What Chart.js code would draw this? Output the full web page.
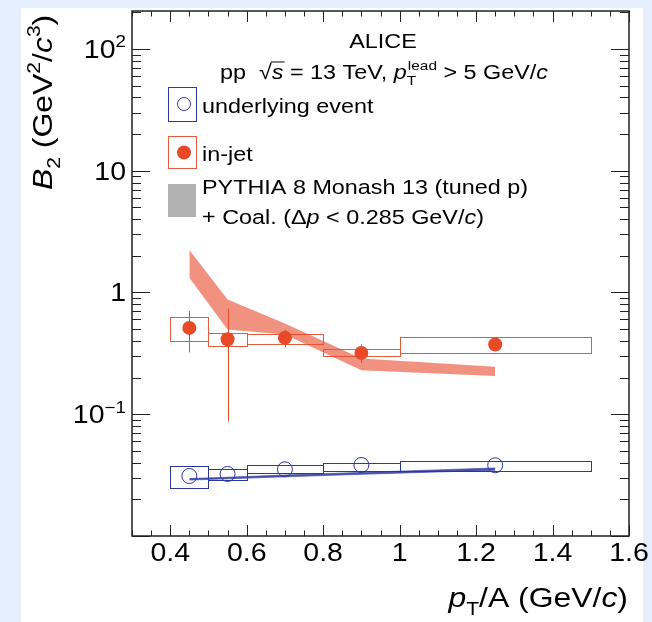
<!DOCTYPE html>
<html>
<head>
<meta charset="utf-8">
<script src="https://cdn.jsdelivr.net/npm/chart.js@4.4.1/dist/chart.umd.min.js"></script>
<style>
  html, body { margin: 0; padding: 0; background: #e4eefc; }
  canvas { display: block; }
</style>
</head>
<body>
<canvas id="c" width="652" height="622"></canvas>
<script>
// pT/A bins (GeV/c)
const binCenters = [0.45, 0.55, 0.7, 0.9, 1.25];
const binLow = [0.4, 0.5, 0.6, 0.8, 1.0];
const binHigh = [0.5, 0.6, 0.8, 1.0, 1.5];

// B2 in-jet (GeV^2/c^3)
const jetB2 = [0.512, 0.413, 0.424, 0.319, 0.374];
const jetStat = [0.19, 0.326, 0.07, 0.055, 0.03];
const jetSysLow = [0.398, 0.364, 0.381, 0.298, 0.321];
const jetSysHigh = [0.630, 0.466, 0.457, 0.344, 0.427];

// B2 underlying event
const ueB2 = [0.0311, 0.0323, 0.0353, 0.0383, 0.0381];
const ueSysLow = [0.0247, 0.0288, 0.0330, 0.0345, 0.0345];
const ueSysHigh = [0.0376, 0.0355, 0.0383, 0.0400, 0.0416];

// PYTHIA 8 Monash 13 (tuned p) + coalescence bands
const pythiaX = [0.45, 0.55, 0.7, 0.9, 1.25];
const pythiaJetLow = [1.32, 0.497, 0.452, 0.230, 0.206];
const pythiaJetHigh = [2.23, 0.876, 0.556, 0.287, 0.245];
const pythiaUeLow = [0.0288, 0.0295, 0.0306, 0.0321, 0.0347];
const pythiaUeHigh = [0.0296, 0.0304, 0.0317, 0.0333, 0.0362];

// axis ticks
const xMajorTicks = [0.4, 0.6, 0.8, 1.0, 1.2, 1.4, 1.6];
const xTickLabels = ['0.4', '0.6', '0.8', '1', '1.2', '1.4', '1.6'];
const yDecades = [0.01, 0.1, 1, 10, 100];
const yTickLabels = [null, ['10', '\u22121'], ['1', null], ['10', null], ['10', '2']];

const RED = '#e84a28';
const RED_BOX = '#e65a3e';
const BLUE = '#2b36a0';
const FONT = "'Liberation Sans', Arial, Helvetica, sans-serif";
const SX = 1.14; // horizontal text stretch

const pts = (xs, ys) => xs.map((x, i) => ({ x, y: ys[i] }));

// rich text: segments {t, it, sub, sup, noAdv, ov}
function drawRich(ctx, segs, x, y, size, align, sx) {
  sx = sx || SX;
  let w = 0;
  const items = segs.map(s => {
    const fs = (s.sub || s.sup) ? size * 0.66 : size;
    const font = (s.it ? 'italic ' : '') + fs + 'px ' + FONT;
    ctx.font = font;
    const mw = ctx.measureText(s.t).width;
    if (!s.noAdv) w += mw + (s.dx || 0);
    return { s, font, w: mw };
  });
  ctx.save();
  ctx.translate(x, y);
  ctx.scale(sx, 1);
  let cx = align === 'right' ? -w : align === 'center' ? -w / 2 : 0;
  for (const it of items) {
    cx += it.s.dx || 0;
    ctx.font = it.font;
    const dy = it.s.sub ? size * 0.28 : it.s.sup ? -size * 0.42 : 0;
    ctx.fillText(it.s.t, cx, dy);
    if (it.s.ov) {
      ctx.save();
      ctx.lineWidth = 1;
      ctx.strokeStyle = ctx.fillStyle;
      ctx.beginPath();
      ctx.moveTo(cx - 1, -size * 0.83);
      ctx.lineTo(cx + it.w + 1, -size * 0.83);
      ctx.stroke();
      ctx.restore();
    }
    if (!it.s.noAdv) cx += it.w;
  }
  ctx.restore();
}

const decor = {
  id: 'decor',
  beforeDraw(chart) {
    const ctx = chart.ctx;
    ctx.save();
    ctx.fillStyle = '#e4eefc';
    ctx.fillRect(0, 0, chart.width, chart.height);
    ctx.fillStyle = '#ffffff';
    ctx.fillRect(21, 8, 622, chart.height - 8);
    ctx.restore();
  },
  beforeDatasetsDraw(chart) {
    const ctx = chart.ctx;
    const xs = chart.scales.x, ys = chart.scales.y;
    ctx.save();
    ctx.lineWidth = 1;
    // systematic boxes
    const box = (lo, hi, color) => {
      ctx.strokeStyle = color;
      for (let i = 0; i < binCenters.length; i++) {
        const x0 = Math.round(xs.getPixelForValue(binLow[i])) + 0.5;
        const x1 = Math.round(xs.getPixelForValue(binHigh[i])) + 0.5;
        const y0 = Math.round(ys.getPixelForValue(hi[i])) + 0.5;
        const y1 = Math.round(ys.getPixelForValue(lo[i])) + 0.5;
        ctx.strokeRect(x0, y0, x1 - x0, y1 - y0);
      }
    };
    box(jetSysLow, jetSysHigh, RED_BOX);
    box(ueSysLow, ueSysHigh, BLUE);
    // statistical error bars
    ctx.strokeStyle = RED;
    for (let i = 0; i < binCenters.length; i++) {
      const px = Math.round(xs.getPixelForValue(binCenters[i])) + 0.5;
      ctx.beginPath();
      ctx.moveTo(px, ys.getPixelForValue(jetB2[i] + jetStat[i]));
      ctx.lineTo(px, ys.getPixelForValue(jetB2[i] - jetStat[i]));
      ctx.stroke();
    }
    ctx.restore();
  },
  afterDraw(chart) {
    const ctx = chart.ctx;
    const xs = chart.scales.x, ys = chart.scales.y;
    const a = chart.chartArea;
    ctx.save();
    ctx.strokeStyle = '#222';
    ctx.fillStyle = '#000';
    ctx.lineWidth = 1;
    // ticks (ROOT style, inside, all four sides)
    ctx.beginPath();
    for (let i = 6; i <= 32; i++) {
      const v = i * 0.05;
      const px = Math.round(xs.getPixelForValue(v)) + 0.5;
      const len = i % 4 === 0 ? 11 : 5.5;
      ctx.moveTo(px, a.bottom); ctx.lineTo(px, a.bottom - len);
      ctx.moveTo(px, a.top); ctx.lineTo(px, a.top + len);
    }
    for (const d of yDecades) {
      for (let k = 1; k <= 9; k++) {
        const v = d * k;
        if (v > ys.max) break;
        const py = Math.round(ys.getPixelForValue(v)) + 0.5;
        const len = k === 1 ? 18 : 9;
        ctx.moveTo(a.left, py); ctx.lineTo(a.left + len, py);
        ctx.moveTo(a.right, py); ctx.lineTo(a.right - len, py);
      }
    }
    ctx.stroke();
    // frame
    ctx.lineWidth = 1.5;
    ctx.strokeRect(a.left, a.top, a.right - a.left, a.bottom - a.top);

    // x tick labels
    xMajorTicks.forEach((v, i) => {
      drawRich(ctx, [{ t: xTickLabels[i] }], xs.getPixelForValue(v), 561, 25, 'center');
    });
    // y tick labels
    yDecades.forEach((v, i) => {
      const lab = yTickLabels[i];
      if (!lab) return;
      const segs = [{ t: lab[0] }];
      if (lab[1]) segs.push({ t: lab[1], sup: true });
      drawRich(ctx, segs, 126, ys.getPixelForValue(v) + 9, 25, 'right');
    });

    // axis titles
    drawRich(ctx, [
      { t: 'p', it: true }, { t: 'T', sub: true }, { t: '/A (GeV/' }, { t: 'c', it: true }, { t: ')' }
    ], 628, 607, 28, 'right');
    ctx.save();
    ctx.translate(52, 190);
    ctx.rotate(-Math.PI / 2);
    drawRich(ctx, [
      { t: 'B', it: true }, { t: '2', sub: true }, { t: ' (GeV' }, { t: '2', sup: true },
      { t: '/' }, { t: 'c', it: true }, { t: '3', sup: true }, { t: ')' }
    ], 0, 0, 28, 'left');
    ctx.restore();

    // header text
    drawRich(ctx, [{ t: 'ALICE' }], 383, 48, 20.5, 'center');
    drawRich(ctx, [
      { t: 'pp  \u221A' }, { t: 's', it: true, ov: true }, { t: ' = 13 TeV, ' },
      { t: 'p', it: true }, { t: 'T', sub: true, noAdv: true }, { t: 'lead', sup: true, dx: 1 },
      { t: ' > 5 GeV/' }, { t: 'c', it: true }
    ], 384, 79, 20.5, 'center');

    // legend
    ctx.lineWidth = 1;
    ctx.strokeStyle = BLUE;
    ctx.strokeRect(168.5, 87.5, 28, 34);
    ctx.beginPath(); ctx.arc(184, 104, 6.5, 0, 2 * Math.PI); ctx.stroke();
    ctx.strokeStyle = RED_BOX;
    ctx.strokeRect(168.5, 136.5, 28, 32);
    ctx.fillStyle = RED;
    ctx.beginPath(); ctx.arc(184, 152.5, 7, 0, 2 * Math.PI); ctx.fill();
    ctx.fillStyle = '#b2b2b2';
    ctx.fillRect(168, 184, 28, 33);

    ctx.fillStyle = '#000';
    drawRich(ctx, [{ t: 'underlying event' }], 202, 113, 20.5, 'left');
    drawRich(ctx, [{ t: 'in-jet' }], 202, 161, 20.5, 'left');
    drawRich(ctx, [{ t: 'PYTHIA 8 Monash 13 (tuned p)' }], 202, 194, 20.5, 'left');
    drawRich(ctx, [
      { t: '+ Coal. (\u0394' }, { t: 'p', it: true }, { t: ' < 0.285 GeV/' }, { t: 'c', it: true }, { t: ')' }
    ], 202, 224, 20.5, 'left');
    ctx.restore();
  }
};

new Chart(document.getElementById('c'), {
  type: 'line',
  data: {
    datasets: [
      { label: 'in-jet', data: pts(binCenters, jetB2), showLine: false, order: 0,
        pointStyle: 'circle', pointRadius: 7, pointBackgroundColor: RED, pointBorderColor: RED, pointBorderWidth: 0 },
      { label: 'underlying event', data: pts(binCenters, ueB2), showLine: false, order: 0,
        pointStyle: 'circle', pointRadius: 7.5, pointBackgroundColor: 'rgba(0,0,0,0)', pointBorderColor: BLUE, pointBorderWidth: 1 },
      { label: 'PYTHIA in-jet high', data: pts(pythiaX, pythiaJetHigh), order: 5, fill: '+1',
        borderWidth: 0, pointRadius: 0, tension: 0, backgroundColor: 'rgba(233,78,48,0.62)', borderColor: 'rgba(0,0,0,0)' },
      { label: 'PYTHIA in-jet low', data: pts(pythiaX, pythiaJetLow), order: 5, fill: false,
        borderWidth: 0, pointRadius: 0, tension: 0, borderColor: 'rgba(0,0,0,0)' },
      { label: 'PYTHIA UE high', data: pts(pythiaX, pythiaUeHigh), order: 5, fill: '+1',
        borderWidth: 1, pointRadius: 0, tension: 0, backgroundColor: 'rgba(43,54,160,0.85)', borderColor: 'rgba(43,54,160,0.6)' },
      { label: 'PYTHIA UE low', data: pts(pythiaX, pythiaUeLow), order: 5, fill: false,
        borderWidth: 1, pointRadius: 0, tension: 0, borderColor: 'rgba(43,54,160,0.6)' }
    ]
  },
  options: {
    responsive: false,
    animation: false,
    devicePixelRatio: 1,
    layout: { padding: { left: 132, right: 23, top: 11, bottom: 86 } },
    plugins: { legend: { display: false }, tooltip: { enabled: false } },
    scales: {
      x: { type: 'linear', min: 0.3, max: 1.6, display: false },
      y: { type: 'logarithmic', min: 0.01, max: 205, display: false }
    }
  },
  plugins: [decor]
});
</script>
</body>
</html>
